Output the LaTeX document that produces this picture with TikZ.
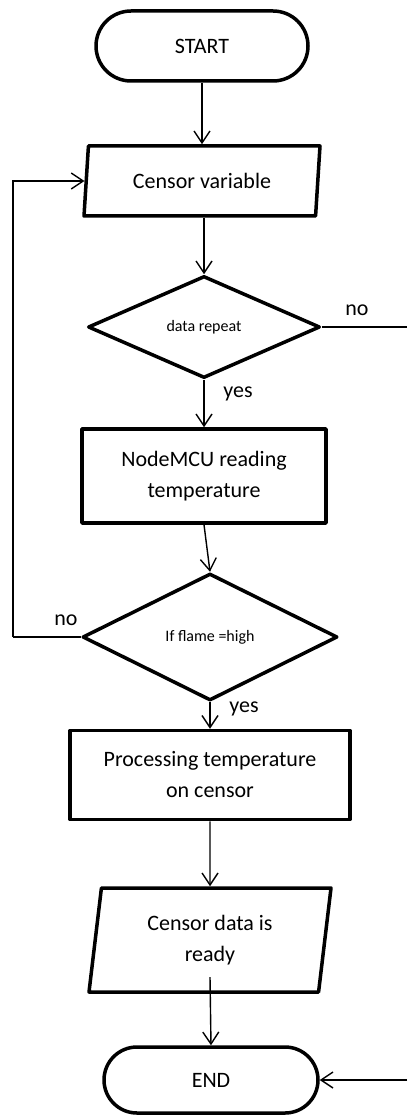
\documentclass[tikz,border=0pt]{standalone}
\usepackage{fontspec}
\setmainfont{Carlito}
\usetikzlibrary{shapes.geometric,shapes.misc,arrows.meta}
\begin{document}
\begin{tikzpicture}[x=1pt,y=-1pt,
  box/.style={draw=black, line width=3.5pt, line join=round, inner sep=0pt, align=center,
    font=\fontsize{22}{31}\selectfont},
  term/.style={box, rounded rectangle},
  proc/.style={box, rectangle},
  io/.style={box, trapezium, trapezium stretches body},
  dec/.style={box, diamond, font=\fontsize{16}{20}\selectfont},
  arr/.style={-{Straight Barb[length=12pt,width=16pt]}, line width=1.4pt},
  ln/.style={line width=1.4pt},
  lbl/.style={font=\fontsize{22}{26}\selectfont, inner sep=0pt}
]
\useasboundingbox (0,0) rectangle (407,1115);

\node[term, minimum width=212pt, minimum height=70pt] (start) at (202,46) {START};
\node[io, trapezium left angle=74, trapezium right angle=106,
      minimum width=236pt, minimum height=70pt] (cv) at (202,181) {Censor variable};
\node[dec, minimum width=232pt, minimum height=102pt] (d1) at (204,327) {data repeat};
\node[proc, minimum width=244pt, minimum height=94pt] (r1) at (204,476) {NodeMCU reading\\temperature};
\node[dec, minimum width=255pt, minimum height=127pt] (d2) at (210,637) {If flame =high};
\node[proc, minimum width=280pt, minimum height=89pt] (r2) at (210,775) {Processing temperature\\on censor};
\node[io, trapezium left angle=76, trapezium right angle=104,
      minimum width=242pt, minimum height=104pt] (p2) at (210,940) {Censor data is\\ready};
\node[term, minimum width=214pt, minimum height=66pt] (end) at (211,1080) {END};

\coordinate (loopx) at (13,637);
\coordinate (noR) at (407,327);
\coordinate (p2in) at (210,977);
\coordinate (endR) at (407,1080);

\draw[arr] (start.south) -- (cv.north -| start.south);
\draw[arr] (cv.south -| d1.north) -- (d1.north);
\draw[ln] (d1.east) -- (noR);
\draw[arr] (d1.south) -- (r1.north);
\draw[arr] (r1.south) -- (d2.north);
\draw[arr] (loopx) |- (cv.west);
\draw[ln] (d2.west) -- (loopx);
\draw[arr] (d2.south) -- (r2.north);
\draw[arr] (r2.south) -- (p2.north);
\draw[arr] (p2in) -- (end.north);
\draw[arr] (endR) -- (end.east);

\node[lbl] (no1) at (357,310) {no};
\node[lbl] (yes1) at (238,394) {yes};
\node[lbl] (no2) at (66,620) {no};
\node[lbl] (yes2) at (244,709) {yes};
\end{tikzpicture}
\end{document}
